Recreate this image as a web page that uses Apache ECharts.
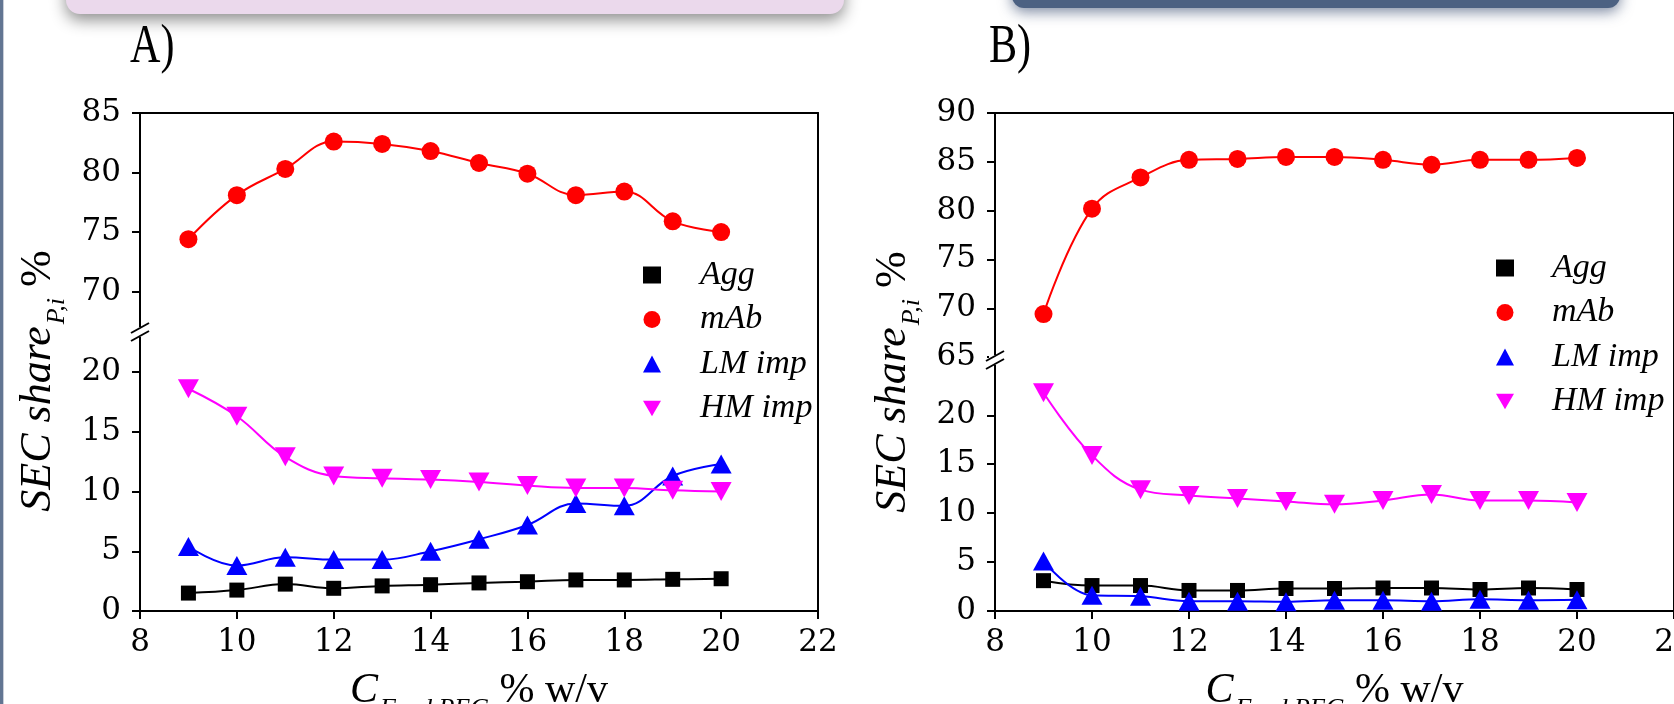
<!DOCTYPE html>
<html><head><meta charset="utf-8">
<script src="https://cdn.jsdelivr.net/npm/echarts@6/dist/echarts.min.js"></script>
<style>html,body{margin:0;padding:0;background:#fff;overflow:hidden}#c{width:1674px;height:704px}</style>
</head><body><div id="c"></div>
<script>
// ---- data ----
const feedPEG = [9, 10, 11, 12, 13, 14, 15, 16, 17, 18, 19, 20];
const aggA = [1.5, 1.75, 2.25, 1.9, 2.1, 2.2, 2.35, 2.45, 2.6, 2.6, 2.65, 2.7];
const mAbA = [74.4, 78.1, 80.3, 82.6, 82.4, 81.8, 80.8, 79.9, 78.1, 78.4, 75.9, 75.0];
const lmA  = [5.4, 3.8, 4.5, 4.3, 4.3, 5.0, 6.0, 7.2, 9.0, 8.8, 11.3, 12.3];
const hmA  = [18.6, 16.3, 12.9, 11.3, 11.1, 11.0, 10.8, 10.5, 10.3, 10.3, 10.1, 10.0];
const aggB = [3.1, 2.6, 2.6, 2.1, 2.1, 2.3, 2.3, 2.35, 2.35, 2.2, 2.35, 2.2];
const mAbB = [69.4, 80.2, 83.4, 85.2, 85.3, 85.5, 85.5, 85.2, 84.7, 85.2, 85.2, 85.4];
const lmB  = [5.1, 1.6, 1.5, 1.0, 1.0, 0.95, 1.1, 1.1, 1.0, 1.2, 1.1, 1.15];
const hmB  = [22.3, 15.9, 12.4, 11.8, 11.5, 11.2, 10.9, 11.3, 11.9, 11.3, 11.3, 11.1];
const upperTicksA = [70, 75, 80, 85];
const lowerTicksA = [0, 5, 10, 15, 20];
const upperTicksB = [65, 70, 75, 80, 85, 90];
const lowerTicksB = [0, 5, 10, 15, 20];
const seriesNames = ['Agg', 'mAb', 'LM imp', 'HM imp'];

// ---- styling ----
const SERIF = 'Liberation Serif';
const TICKFONT = 'DejaVu Serif';
const COLORS = {'Agg': '#000000', 'mAb': '#ff0000', 'LM imp': '#0000ff', 'HM imp': '#ff00ff'};
const SYM = {'Agg': ['rect', 15, 0], 'mAb': ['circle', 18, 0], 'LM imp': ['triangle', [21, 19], 0], 'HM imp': ['triangle', [21, 19], 180]};

// grid layout
const grids = [
  {left: 140, top: 113, width: 678, height: 219},  // A upper
  {left: 140, top: 332, width: 678, height: 279},  // A lower
  {left: 995, top: 113, width: 679, height: 247},  // B upper
  {left: 995, top: 360, width: 679, height: 251}   // B lower
];
const yRanges = [[66.6, 85], [0, 23.35], [64.7, 90], [0, 25.65]];
const yTicks = [upperTicksA, lowerTicksA, upperTicksB, lowerTicksB];

const chart = echarts.init(document.getElementById('c'), null, {renderer: 'canvas'});

const xAxes = grids.map((g, i) => {
  const lower = i % 2 === 1;
  const ax = {
    type: 'value', gridIndex: i, min: 8, max: 22, interval: 2,
    position: lower ? 'bottom' : 'top',
    axisLine: {show: true, onZero: false, lineStyle: {color: '#000', width: 2}},
    axisTick: {show: lower, length: 8, lineStyle: {color: '#000', width: 2}},
    axisLabel: {show: lower, margin: 16, fontSize: 31, fontFamily: TICKFONT, color: '#000', hideOverlap: false},
    splitLine: {show: false}
  };
  if (lower) {
    ax.name = '{c|C}{s|Feed PEG}{u| % w/v}';
    ax.nameLocation = 'middle';
    ax.nameGap = 59;
    ax.nameTextStyle = {
      rich: {
        c: {fontFamily: SERIF, fontStyle: 'italic', fontSize: 42, lineHeight: 46, verticalAlign: 'top', color: '#000'},
        s: {fontFamily: SERIF, fontStyle: 'italic', fontSize: 26, lineHeight: 30, padding: [26, 0, 0, 2], verticalAlign: 'top', color: '#000'},
        u: {fontFamily: SERIF, fontSize: 42, lineHeight: 46, verticalAlign: 'top', color: '#000'}
      }
    };
  }
  return ax;
});

const yAxes = [];
grids.forEach((g, i) => {
  yAxes.push({
    type: 'value', gridIndex: i, min: yRanges[i][0], max: yRanges[i][1], position: 'left',
    axisLine: {show: true, onZero: false, lineStyle: {color: '#000', width: 2}},
    axisTick: {show: true, length: 8, lineStyle: {color: '#000', width: 2}, customValues: yTicks[i]},
    axisLabel: {margin: 19, fontSize: 31, fontFamily: TICKFONT, color: '#000', customValues: yTicks[i], hideOverlap: false},
    splitLine: {show: false}
  });
});
grids.forEach((g, i) => {
  yAxes.push({
    type: 'value', gridIndex: i, min: yRanges[i][0], max: yRanges[i][1], position: 'right',
    axisLine: {show: true, onZero: false, lineStyle: {color: '#000', width: 2}},
    axisTick: {show: false}, axisLabel: {show: false}, splitLine: {show: false}
  });
});

function mk(name, vals, gi) {
  const s = SYM[name];
  return {
    type: 'line', name: name, xAxisIndex: gi, yAxisIndex: gi,
    data: feedPEG.map((x, k) => [x, vals[k]]),
    smooth: 0.4, symbol: s[0], symbolSize: s[1], symbolRotate: s[2],
    showSymbol: true, showAllSymbol: true,
    lineStyle: {color: COLORS[name], width: 2},
    itemStyle: {color: COLORS[name]},
    emphasis: {disabled: true}, animation: false
  };
}
const series = [
  mk('mAb', mAbA, 0),
  mk('Agg', aggA, 1), mk('LM imp', lmA, 1), mk('HM imp', hmA, 1),
  mk('mAb', mAbB, 2),
  mk('Agg', aggB, 3), mk('LM imp', lmB, 3), mk('HM imp', hmB, 3)
];

function legendAt(left, top, pad) {
  return {
    orient: 'vertical', left: left, top: top, padding: 0, itemWidth: 18, itemHeight: 17, itemGap: 8.5,
    selectedMode: false, symbolRotate: 0,
    data: [
      {name: 'Agg', icon: 'rect'},
      {name: 'mAb', icon: 'circle'},
      {name: 'LM imp', icon: 'triangle'},
      {name: 'HM imp', icon: 'path://M0,0L20,0L10,17Z'}
    ],
    textStyle: {fontFamily: SERIF, fontStyle: 'italic', fontSize: 34, lineHeight: 36, color: '#000', padding: [0, 0, 0, pad]}
  };
}

const yNameRich = {
  a: {fontFamily: SERIF, fontStyle: 'italic', fontSize: 44, lineHeight: 50, verticalAlign: 'top', fill: '#000'},
  b: {fontFamily: SERIF, fontStyle: 'italic', fontSize: 26, lineHeight: 30, padding: [28, 0, 0, 2], verticalAlign: 'top', fill: '#000'},
  c: {fontFamily: SERIF, fontSize: 44, lineHeight: 50, verticalAlign: 'top', fill: '#000'}
};
function yName(x, y) {
  return {type: 'text', x: x, y: y, rotation: Math.PI / 2, z: 50,
    style: {text: '{a|SEC share}{b|P,i}{c| %}', rich: yNameRich, align: 'center', verticalAlign: 'middle'}};
}
function breakMark(x, y) {
  return [
    {type: 'rect', z: 60, shape: {x: x - 6, y: y - 5, width: 12, height: 10}, style: {fill: '#fff'}},
    {type: 'line', z: 61, shape: {x1: x - 9, y1: y + 1, x2: x + 9, y2: y - 9}, style: {stroke: '#000', lineWidth: 2}},
    {type: 'line', z: 61, shape: {x1: x - 9, y1: y + 9, x2: x + 9, y2: y - 1}, style: {stroke: '#000', lineWidth: 2}}
  ];
}

const graphic = [
  // slide decorations
  {type: 'rect', z: 1, shape: {x: 0, y: 0, width: 3, height: 704}, style: {fill: '#627592'}},
  {type: 'rect', z: 1, shape: {x: 3, y: 0, width: 1, height: 704}, style: {fill: '#c9ced8'}},
  {type: 'rect', z: 1, shape: {x: 66, y: -30, width: 778, height: 44, r: 14},
    style: {fill: '#ebd9ec', shadowBlur: 16, shadowOffsetY: 6, shadowColor: 'rgba(0,0,0,0.45)'}},
  {type: 'rect', z: 1, shape: {x: 1012, y: -30, width: 608, height: 38, r: 12},
    style: {fill: '#4c6182', shadowBlur: 14, shadowOffsetY: 4, shadowColor: 'rgba(40,60,100,0.6)'}},
  // panel labels
  {type: 'text', x: 130, y: 48, z: 50, scaleX: 0.78, style: {text: 'A)', fontFamily: SERIF, fontSize: 54, fill: '#000', verticalAlign: 'middle'}},
  {type: 'text', x: 989, y: 48, z: 50, scaleX: 0.78, style: {text: 'B)', fontFamily: SERIF, fontSize: 54, fill: '#000', verticalAlign: 'middle'}},
  yName(41, 381), yName(896, 382)
].concat(breakMark(140, 332), breakMark(995, 360));

chart.setOption({
  backgroundColor: '#ffffff',
  animation: false,
  grid: grids.map(g => Object.assign({containLabel: false, outerBoundsMode: 'none'}, g)),
  xAxis: xAxes,
  yAxis: yAxes,
  legend: [legendAt(643, 257, 34), legendAt(1496, 250, 33)],
  series: series,
  graphic: graphic
});
</script></body></html>
